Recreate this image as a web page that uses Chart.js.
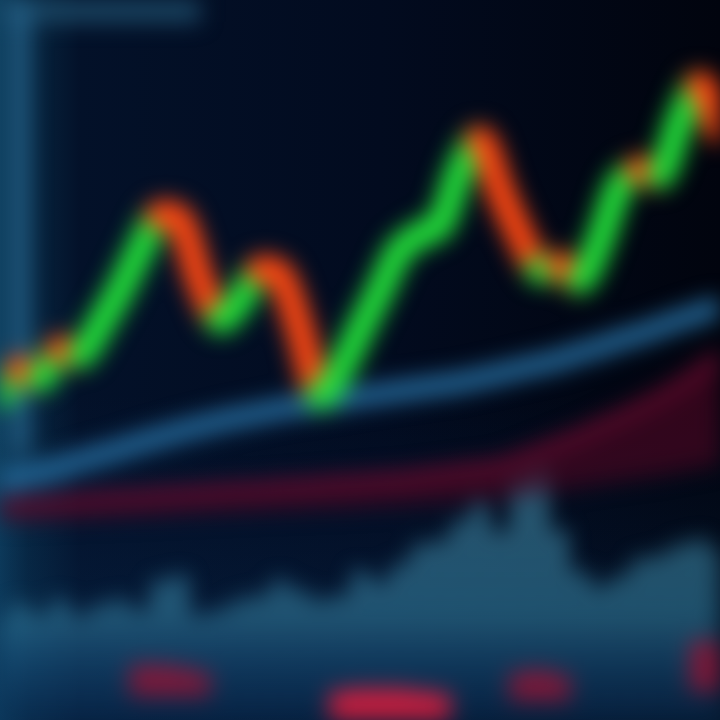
<!DOCTYPE html>
<html>
<head>
<meta charset="utf-8">
<script src="https://cdn.jsdelivr.net/npm/chart.js@4"></script>
<style>
  html, body { margin: 0; padding: 0; }
  body {
    width: 720px; height: 720px; overflow: hidden;
    background:
      linear-gradient(to top, rgba(10,50,90,0.45) 0%, rgba(8,40,80,0.2) 25%, rgba(0,0,0,0) 45%),
      linear-gradient(to right, #0d3d5c 0px, #072640 28px, #031129 80px, #020b1f 380px, #01040e 720px);
  }
  #wrap { position: relative; width: 720px; height: 720px; }
  canvas { filter: blur(11px); }
</style>
</head>
<body>
<div id="wrap"><canvas id="stockChart" width="720" height="720"></canvas></div>
<script>
// 37 sessions
var days = [];
for (var i = 1; i <= 37; i++) days.push('D' + i);

// closing price (green = up, red = down)
var price = [45.1, 48.6, 47.5, 51.4, 50.7, 54.9, 59.7, 65.3, 70.1, 69.4,
             61.1, 55.6, 58.3, 62.5, 61.8, 54.2, 45.1, 48.6, 54.2, 59.7,
             65.3, 67.4, 68.8, 76.4, 80.6, 73.6, 67.4, 62.5, 63.2, 61.1,
             66.7, 74.3, 76.4, 75.7, 83.3, 88.2, 81.9];

// moving average (blue)
var movingAvg = [33.3, 33.9, 34.4, 35.1, 36.0, 36.8, 37.6, 38.5, 39.3, 40.1,
                 40.8, 41.5, 42.1, 42.6, 43.2, 43.6, 44.0, 44.4, 44.9, 45.3,
                 45.7, 46.1, 46.5, 46.9, 47.5, 48.1, 48.8, 49.4, 50.1, 51.0,
                 51.8, 52.8, 53.6, 54.6, 55.6, 56.5, 57.5];

// slow average (dark red) and its lower band
var slowAvg = [29.9, 30.0, 30.1, 30.3, 30.6, 30.8, 31.0, 31.1, 31.4, 31.5,
               31.7, 31.9, 32.1, 32.2, 32.5, 32.6, 32.8, 33.1, 33.2, 33.5,
               33.6, 34.0, 34.3, 34.7, 35.0, 35.4, 36.4, 37.5, 38.6, 39.7,
               41.0, 42.2, 43.6, 45.0, 46.7, 48.6, 50.7];
var lowerBand = [27.8, 27.9, 28.0, 28.1, 28.2, 28.3, 28.4, 28.5, 28.6, 28.8,
                 28.9, 29.0, 29.1, 29.2, 29.3, 29.4, 29.5, 29.6, 29.7, 29.9,
                 30.0, 30.2, 30.4, 30.6, 30.8, 31.0, 31.4, 31.8, 32.2, 32.6,
                 33.0, 33.4, 33.8, 34.2, 34.7, 35.2, 35.7];

// volume
var volume = [42, 48, 44, 50, 44, 48, 50, 46, 58, 60,
              44, 46, 50, 52, 58, 54, 50, 52, 62, 58,
              65, 73, 75, 83, 90, 79, 100, 104, 79, 62,
              56, 60, 67, 69, 73, 75, 71];

// sell volume blocks at the bottom [low, high]
var sellVolume = [null, null, null, null, null, null, null, [10, 23], [10, 23], [10, 22],
                  [10, 20], null, null, null, null, null, null, [0, 12], [0, 13], [0, 13],
                  [0, 13], [0, 12], [0, 11], null, null, null, [8, 20], [8, 21], [8, 19],
                  null, null, null, null, null, null, [12, 33], [12, 33]];

var up = '#22e03a', down = '#ff4812';

var ctx = document.getElementById('stockChart').getContext('2d');
var chart = new Chart(ctx, {
    type: 'line',
    data: {
        labels: days,
        datasets: [{
            label: 'Price',
            data: price,
            borderWidth: 28,
            borderCapStyle: 'round',
            borderJoinStyle: 'round',
            pointRadius: 0,
            tension: 0.3,
            segment: {
                borderColor: function (c) {
                    return c.p1.parsed.y >= c.p0.parsed.y ? up : down;
                }
            },
            order: 1
        }, {
            label: 'MA',
            data: movingAvg,
            borderColor: 'rgba(38,110,160,0.95)',
            borderWidth: 20,
            pointRadius: 0,
            tension: 0.4,
            order: 2
        }, {
            label: 'Slow MA',
            data: slowAvg,
            borderColor: 'rgba(115,12,48,0.85)',
            borderWidth: 12,
            pointRadius: 0,
            tension: 0.4,
            order: 3
        }, {
            label: 'Band',
            data: lowerBand,
            borderColor: 'rgba(60,5,30,0.5)',
            borderWidth: 4,
            backgroundColor: 'rgba(75,6,34,0.65)',
            fill: '-1',
            pointRadius: 0,
            tension: 0.4,
            order: 4
        }, {
            type: 'bar',
            label: 'Sell',
            data: sellVolume,
            yAxisID: 'yv',
            grouped: false,
            backgroundColor: function (c) {
                var i = c.dataIndex;
                return (i >= 17 && i <= 22) ? 'rgba(210,30,62,0.95)' : 'rgba(150,20,52,0.8)';
            },
            barPercentage: 1,
            categoryPercentage: 1,
            order: 5
        }, {
            type: 'bar',
            label: 'Volume',
            data: volume,
            yAxisID: 'yv',
            grouped: false,
            barPercentage: 0.6,
            categoryPercentage: 1,
            backgroundColor: function (c) {
                var area = c.chart.chartArea;
                if (!area) return 'rgba(60,140,175,0.8)';
                var g = c.chart.ctx.createLinearGradient(0, area.bottom - 260, 0, area.bottom);
                g.addColorStop(0, 'rgba(78,158,188,0.85)');
                g.addColorStop(0.6, 'rgba(58,142,176,0.85)');
                g.addColorStop(0.78, 'rgba(30,95,140,0.75)');
                g.addColorStop(1, 'rgba(10,45,85,0.6)');
                return g;
            },
            order: 6
        }, {
            label: 'Axis',
            data: [{x: 'D2', y: 100}, {x: 'D2', y: 37}],
            borderColor: 'rgba(38,100,140,0.9)',
            borderWidth: 18,
            pointRadius: 0,
            order: 7
        }, {
            label: 'Header',
            data: [{x: 'D1', y: 98.6}, {x: 'D11', y: 98.6}],
            borderColor: 'rgba(30,80,110,0.85)',
            borderWidth: 24,
            pointRadius: 0,
            order: 8
        }]
    },
    options: {
        responsive: false,
        animation: false,
        layout: { padding: 0 },
        plugins: {
            legend: { display: false },
            tooltip: { enabled: false }
        },
        scales: {
            x: { display: false, offset: false },
            y: { display: false, min: 0, max: 100 },
            yv: { display: false, min: 0, max: 300 }
        }
    }
});
</script>
</body>
</html>
